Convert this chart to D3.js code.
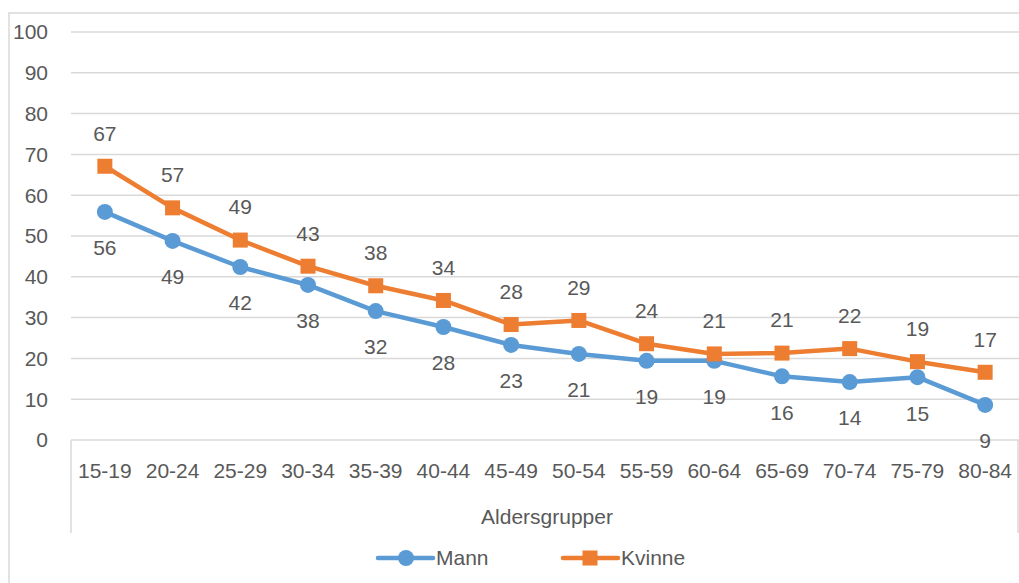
<!DOCTYPE html>
<html><head><meta charset="utf-8">
<script src="https://cdn.jsdelivr.net/npm/d3@7"></script>
<style>body{margin:0;background:#fff}svg{display:block}text{font-family:"Liberation Sans",Arial,sans-serif;fill:#595959}</style>
</head><body><svg id="c" width="1019" height="583"></svg>
<script>
const categories=["15-19","20-24","25-29","30-34","35-39","40-44","45-49","50-54","55-59","60-64","65-69","70-74","75-79","80-84"];
const mann=[55.9,48.8,42.4,38.0,31.6,27.7,23.3,21.1,19.4,19.4,15.6,14.2,15.4,8.6];
const kvinne=[67.1,56.9,49.0,42.6,37.8,34.2,28.3,29.3,23.6,21.1,21.3,22.4,19.2,16.6];
const yTicks=[0,10,20,30,40,50,60,70,80,90,100];
const seriesNames=["Mann","Kvinne"];
const colors=["#5B9BD5","#ED7D31"];

(function(){
const svg=d3.select("#c");
const pl=71,pr=1019,pt=32,pb=440;
const x=d3.scaleBand().domain(categories).range([pl,pr]);
const y=d3.scaleLinear().domain([0,100]).range([pb,pt]);
const fs=21;

svg.append("rect").attr("x",9).attr("y",13).attr("width",1020).attr("height",600).attr("fill","none").attr("stroke","#d9d9d9").attr("stroke-width",1.5);

svg.append("g").selectAll("line").data(yTicks.filter(d=>d>0)).join("line")
 .attr("x1",pl).attr("x2",pr).attr("y1",d=>y(d)).attr("y2",d=>y(d))
 .attr("stroke","#d9d9d9").attr("stroke-width",1.5);
svg.append("g").selectAll("text").data(yTicks).join("text")
 .attr("x",48).attr("y",d=>y(d)).attr("dy","0.35em").attr("text-anchor","end")
 .attr("font-size",fs).text(d=>d);

svg.append("line").attr("x1",pl).attr("x2",pr).attr("y1",pb).attr("y2",pb).attr("stroke","#d9d9d9").attr("stroke-width",1.5);
svg.append("line").attr("x1",pl).attr("x2",pl).attr("y1",pb).attr("y2",533).attr("stroke","#d9d9d9").attr("stroke-width",1.5);
svg.append("line").attr("x1",pr-1).attr("x2",pr-1).attr("y1",pb).attr("y2",533).attr("stroke","#d9d9d9").attr("stroke-width",1.5);
svg.append("g").selectAll("text").data(categories).join("text")
 .attr("x",d=>x(d)+x.bandwidth()/2).attr("y",471).attr("dy","0.35em").attr("text-anchor","middle")
 .attr("font-size",fs).text(d=>d);
svg.append("text").attr("x",(pl+pr)/2+2).attr("y",517).attr("dy","0.35em").attr("text-anchor","middle").attr("font-size",fs).text("Aldersgrupper");

const cx=(i)=>x(categories[i])+x.bandwidth()/2;
const line=d3.line().x((d,i)=>cx(i)).y(d=>y(d));
[mann,kvinne].forEach((vals,s)=>{
 svg.append("path").attr("d",line(vals)).attr("fill","none").attr("stroke",colors[s]).attr("stroke-width",4.5).attr("stroke-linejoin","round").attr("stroke-linecap","round");
});
svg.append("g").selectAll("circle").data(mann).join("circle")
 .attr("cx",(d,i)=>cx(i)).attr("cy",d=>y(d)).attr("r",8).attr("fill",colors[0]);
svg.append("g").selectAll("rect").data(kvinne).join("rect")
 .attr("x",(d,i)=>cx(i)-7.5).attr("y",d=>y(d)-7.5).attr("width",15).attr("height",15).attr("fill",colors[1]);

svg.append("g").selectAll("text").data(mann).join("text")
 .attr("x",(d,i)=>cx(i)).attr("y",d=>y(d)+36).attr("dy","0.35em").attr("text-anchor","middle").attr("font-size",fs).text(d=>Math.round(d));
svg.append("g").selectAll("text").data(kvinne).join("text")
 .attr("x",(d,i)=>cx(i)).attr("y",d=>y(d)-33).attr("dy","0.35em").attr("text-anchor","middle").attr("font-size",fs).text(d=>Math.round(d));

const lg=[{x:378,name:seriesNames[0],c:colors[0],t:"c"},{x:563,name:seriesNames[1],c:colors[1],t:"s"}];
lg.forEach(l=>{
 const g=svg.append("g");
 g.append("line").attr("x1",l.x).attr("x2",l.x+55).attr("y1",558).attr("y2",558).attr("stroke",l.c).attr("stroke-width",4.5).attr("stroke-linecap","round");
 if(l.t==="c") g.append("circle").attr("cx",l.x+28).attr("cy",558).attr("r",8).attr("fill",l.c);
 else g.append("rect").attr("x",l.x+27-7.5).attr("y",558-7.5).attr("width",15).attr("height",15).attr("fill",l.c);
 g.append("text").attr("x",l.x+58).attr("y",558).attr("dy","0.35em").attr("font-size",fs).text(l.name);
});
})();
</script></body></html>
